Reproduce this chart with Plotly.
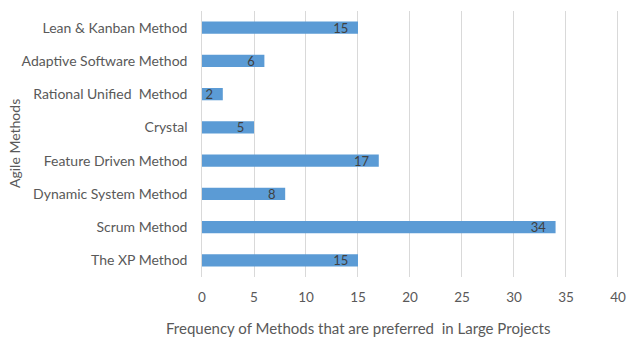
import plotly.graph_objects as go

categories = ["The XP Method", "Scrum Method", "Dynamic System Method",
              "Feature Driven Method", "Crystal", "Rational Unified  Method",
              "Adaptive Software Method", "Lean & Kanban Method"]
values = [15, 34, 8, 17, 5, 2, 6, 15]
x_ticks = [0, 5, 10, 15, 20, 25, 30, 35, 40]

font_family = "Lato, 'Open Sans', sans-serif"

fig = go.Figure(go.Bar(
    y=categories, x=values, orientation="h",
    marker=dict(color="#5B9BD5", line=dict(width=0)),
    width=0.37,
    text=values, texttemplate="%{x}  ",
    textposition="inside", insidetextanchor="end",
    textangle=0, constraintext="none",
    textfont=dict(color="#404040", size=13, family=font_family),
    cliponaxis=False, hoverinfo="skip",
))

fig.update_layout(
    width=628, height=339,
    margin=dict(l=202, r=9, t=11, b=62),
    paper_bgcolor="white", plot_bgcolor="white",
    showlegend=False,
    font=dict(family=font_family, size=13.5, color="#595959"),
    xaxis=dict(range=[0, 40.1], tickvals=x_ticks, showgrid=True,
               gridcolor="#D9D9D9", gridwidth=1, zeroline=False,
               showline=False, ticks="", ticklen=0, automargin=False,
               ticklabelstandoff=10, ticklabeloverflow="allow",
               tickfont=dict(size=13.5, color="#595959")),
    yaxis=dict(showgrid=False, zeroline=False, showline=True,
               linecolor="#D9D9D9", linewidth=1, ticks="", automargin=False,
               tickfont=dict(size=14, color="#595959"),
               ticksuffix="   "),
    annotations=[
        dict(text="Frequency of Methods that are preferred  in Large Projects",
             xref="paper", yref="paper", x=(358 - 202) / 417, y=-0.19,
             xanchor="center", yanchor="middle", showarrow=False,
             font=dict(size=15, color="#595959")),
        dict(text="Agile Methods", xref="paper", yref="paper",
             x=(14 - 202) / 417, y=0.5, textangle=-90,
             xanchor="center", yanchor="middle", showarrow=False,
             font=dict(size=14, color="#595959")),
    ],
)

fig.write_html("out.html", config={"displayModeBar": False},
               post_script="document.body.style.margin='0';document.body.style.overflow='hidden';")
